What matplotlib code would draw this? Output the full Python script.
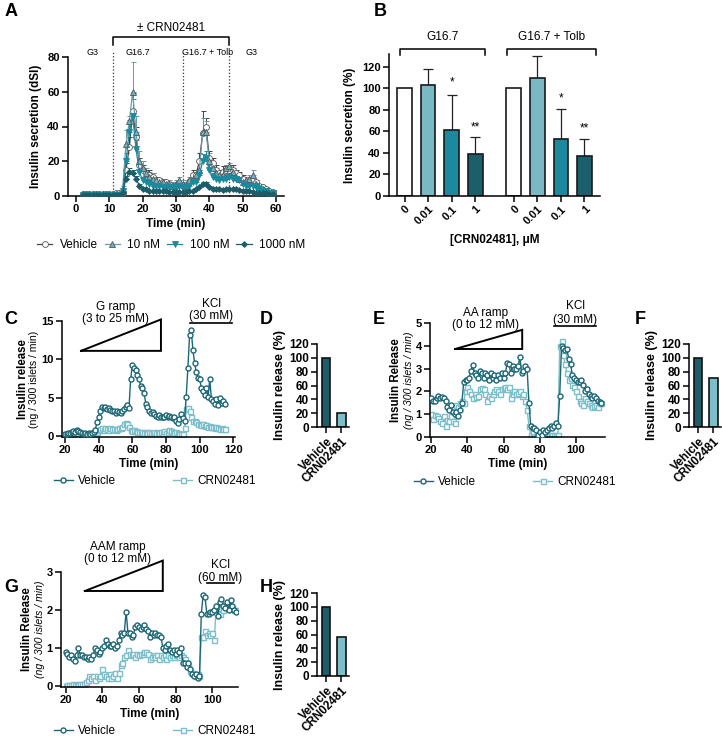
import numpy as np
import matplotlib
matplotlib.use("Agg")
import matplotlib.pyplot as plt

plt.rcParams['font.family'] = ['Liberation Sans', 'DejaVu Sans']
plt.rcParams['axes.linewidth'] = 1.1
plt.rcParams['xtick.major.width'] = 1.1
plt.rcParams['ytick.major.width'] = 1.1
plt.rcParams['xtick.major.size'] = 4
plt.rcParams['ytick.major.size'] = 4

W, H = 722, 736
DARK = '#1d6675'
LIGHT = '#7cbfcb'
MID = '#1b8a9e'
DEEP = '#1c5d69'
GREY = '#555555'
TICK_FS = 8
LAB_FS = 8.5

# ---------------- Panel A data ----------------
time_a = list(range(2, 60))
veh_a = [1, 1, 1, 1, 1, 1, 1, 1, 1, 1, 1.5, 1.5,
         2, 15, 28, 49, 34, 18, 15, 13, 12, 11, 9, 9, 8, 8, 7, 6, 6, 7, 6, 6, 8, 12, 12, 20, 36, 40,
         22, 19, 15, 13, 14, 15, 15, 15, 13, 12, 10, 8, 8, 9, 8, 6, 5, 4, 3, 2.5]
veh_a_err = [0.3] * 12 + [1, 4, 6, 10, 6, 4, 3, 2, 3, 2, 2, 1.5, 1.5, 1, 1, 1, 1, 1, 1, 2, 2, 3, 2, 5, 13, 5,
                          4, 3, 3, 2, 3, 3, 3, 3, 2, 2, 2, 1, 1, 1, 1, 1, 1, 1, 0.5, 0.5]
n10_a = [1] * 12 + [4, 30, 43, 60, 37, 20, 16, 13, 11, 10, 9, 8, 8, 7, 7, 6, 7, 9, 7, 6, 9, 10, 12, 15, 37, 37,
                    20, 16, 13, 12, 12, 16, 17, 14, 11, 10, 8, 9, 10, 12, 7, 5, 4, 3, 2.5, 2]
n10_a_err = [0.3] * 12 + [2, 8, 3, 17, 9, 6, 4, 3, 3, 3, 2, 2, 2, 2, 2, 2, 2, 2, 2, 2, 2, 2, 2, 4, 8, 6,
                          5, 3, 3, 2, 2, 2, 2, 2, 2, 2, 2, 2, 2, 3, 1, 1, 1, 1, 1, 1]
n100_a = [0.8] * 12 + [3, 20, 37, 46, 27, 14, 9, 8, 7, 6, 6, 6, 5, 5, 5, 5, 5, 6, 5, 5, 6, 8, 8, 12, 20, 22,
                       15, 11, 10, 9, 10, 10, 11, 10, 10, 9, 7, 6, 6, 6, 5, 4, 3, 3, 2, 2]
n100_a_err = [0.3] * 12 + [1, 5, 7, 10, 5, 3, 2, 2, 2, 2, 2, 2, 2, 2, 2, 2, 2, 2, 2, 2, 2, 2, 2, 3, 4, 4,
                           3, 2, 2, 2, 2, 2, 2, 2, 2, 2, 2, 2, 2, 2, 1, 1, 1, 1, 1, 1]
n1000_a = [0.6] * 12 + [2, 10, 14, 13, 10, 6, 4, 4, 3, 3, 3, 3, 3, 3, 2.5, 2.5, 2.5, 2.5, 2.5, 2.5, 3, 3, 4, 5, 7, 7,
                        5, 4, 4, 4, 3.5, 4, 4, 4, 4, 3.5, 3, 3, 3, 2.5, 2, 2, 1.5, 1.5, 1, 1]
n1000_a_err = [0.3] * 12 + [0.5, 1.5, 2, 2, 1.5, 1, 0.8, 0.6, 0.5, 0.5, 0.5, 0.5, 0.5, 0.5, 0.5, 0.5, 0.5, 0.5, 0.5,
                            0.5, 0.5, 0.5, 0.6, 0.8, 1, 1, 0.8, 0.6, 0.6, 0.6, 0.5, 0.6, 0.6, 0.6, 0.6, 0.5, 0.5,
                            0.5, 0.5, 0.5, 0.4, 0.4, 0.3, 0.3, 0.3, 0.3]

# ---------------- Panel B data ----------------
b_labels = ['0', '0.01', '0.1', '1']
b_g167 = [100, 103, 61, 39]
b_g167_err = [0, 15, 33, 16]
b_tolb = [100, 110, 53, 37]
b_tolb_err = [0, 20, 28, 16]
b_colors = ['white', '#79b8c4', '#1b8a9e', '#1c5f6c']

# ---------------- Panel C data ----------------
time_c = list(range(20, 116))
veh_c = [0.3, 0.3, 0.4, 0.4, 0.5, 0.6, 0.5, 0.7, 0.6, 0.5, 0.4, 0.3, 0.4, 0.3, 0.4, 0.3, 0.4, 0.5, 0.8,
         1.8, 2.5, 3.2, 3.8, 3.7, 3.8, 3.5, 3.7, 3.4, 3.2, 3.3, 3.0, 3.2, 3.1, 3.0, 3.3, 3.5, 3.8, 4.0, 3.7,
         7.4, 9.3, 8.9, 8.6, 7.9, 7.4, 6.5, 6.2, 5.6, 4.2, 3.8, 3.3, 3.0, 3.1, 2.9, 2.6, 2.5, 2.7, 2.4, 2.5,
         2.4, 2.7, 2.4, 2.6, 2.5, 2.3, 2.4, 2.0, 1.7, 2.2, 2.8, 2.3, 2.0, 5.1, 8.8, 13.2, 13.8, 11.2, 9.5,
         8.3, 7.6, 7.4, 6.3, 5.8, 5.3, 6.2, 5.1, 7.4, 4.8, 4.5, 4.2, 4.8, 4.0, 4.9, 4.3, 4.6, 4.2]
crn_c = [0.2, 0.2, 0.2, 0.3, 0.2, 0.2, 0.1, 0.2, 0.1, 0.2, 0.2, 0.1, 0.2, 0.2, 0.3, 0.2, 0.3, 0.3, 0.3,
         0.5, 0.8, 0.9, 1.0, 0.8, 1.0, 0.9, 0.8, 1.0, 0.9, 0.9, 0.8, 0.9, 1.0, 1.0, 1.2, 1.5, 1.7, 1.5, 1.2,
         0.8, 0.6, 0.7, 0.6, 0.5, 0.5, 0.4, 0.5, 0.4, 0.5, 0.4, 0.5, 0.4, 0.4, 0.5, 0.4, 0.5, 0.4, 0.5, 0.4,
         0.6, 0.4, 0.5, 0.7, 0.6, 0.5, 0.4, 0.5, 0.4, 0.3, 0.2, 0.3, 1.0, 3.5, 3.6, 3.2, 2.5, 2.0, 1.9,
         1.8, 1.5, 1.6, 1.4, 1.5, 1.3, 1.4, 1.2, 1.3, 1.1, 1.2, 1.0, 1.1, 1.0, 0.9, 1.0, 0.9, 0.9]

# ---------------- Panel E data ----------------
time_e = list(range(20, 115))
veh_e = [1.7, 1.6, 1.6, 1.7, 1.8, 1.7, 1.75, 1.7, 1.6, 1.3, 1.2, 1.4, 1.1, 1.0, 1.1, 0.9, 1.2, 1.5,
         2.4, 2.5, 2.5, 2.6, 2.9, 3.15, 2.8, 2.7, 2.6, 2.9, 2.8, 2.6, 2.8, 2.7, 2.5, 2.8, 2.6, 2.7, 2.5,
         2.7, 2.6, 2.8, 2.6, 2.8, 3.25, 3.2, 2.8, 3.1, 3.0, 3.0, 3.1, 3.5, 2.8, 2.9, 3.1, 3.0, 1.5, 0.5,
         0.4, 0.4, 0.3, 0.1, 0.2, 0.1, 0.3, 0.2, 0.3, 0.4, 0.5, 0.4, 0.5, 0.6, 0.5, 1.8, 4.0, 3.9, 3.8,
         3.85, 3.4, 3.2, 2.7, 2.6, 2.5, 2.4, 2.4, 2.5, 2.3, 2.0, 2.1, 1.9, 1.8, 1.7, 1.8, 1.7, 1.6, 1.55, 1.5]
crn_e = [1.0, 0.8, 0.95, 0.9, 0.85, 0.7, 0.6, 0.9, 0.5, 0.75, 0.7, 0.9, 0.7, 0.6, 1.4, 1.3, 1.5, 1.6,
         1.5, 2.0, 2.2, 2.0, 1.9, 1.7, 1.9, 1.75, 1.8, 2.1, 2.15, 2.1, 1.9, 1.6, 1.8, 1.7, 1.9, 2.0, 2.1,
         2.0, 1.9, 2.1, 2.15, 2.2, 2.1, 2.2, 1.7, 1.9, 2.0, 1.9, 1.95, 2.0, 1.8, 1.9, 1.6, 1.2, 0.5, 0.1,
         0.2, 0.05, 0.0, 0.0, 0.1, 0.1, 0.05, 0.1, 0.1, 0.05, 0.1, 0.1, 0.1, 0.05, 0.1, 4.0, 4.2, 3.6, 3.2,
         2.8, 2.5, 2.6, 2.3, 2.2, 2.0, 1.8, 1.6, 1.5, 1.4, 1.7, 1.6, 1.5, 1.4, 1.3, 1.35, 1.4, 1.3, 1.5, 1.5]

# ---------------- Panel G data ----------------
time_g = list(range(20, 114))
veh_g = [0.9, 0.85, 0.75, 0.8, 0.7, 0.65, 0.8, 1.0, 0.8, 0.8, 0.75, 0.75, 0.7, 0.75, 0.7, 0.8, 1.0,
         0.95, 0.85, 0.9, 1.0, 1.05, 1.2, 1.1, 1.05, 1.05, 1.1, 1.0, 1.05, 1.2, 1.4, 1.35, 1.4, 1.95, 1.4,
         1.4, 1.3, 1.35, 1.55, 1.6, 1.55, 1.5, 1.55, 1.6, 1.5, 1.45, 1.3, 1.4, 1.35, 1.4, 1.35, 1.35, 1.3,
         1.0, 0.95, 1.05, 1.1, 0.95, 0.9, 0.95, 0.85, 0.95, 0.9, 1.0, 0.6, 0.6, 0.5, 0.6, 0.45, 0.3, 0.25,
         0.3, 0.2, 0.25, 1.9, 2.4, 2.35, 1.9, 1.9, 1.95, 1.95, 2.0, 2.1, 1.85, 2.2, 2.3, 2.1, 2.05, 2.2, 2.0,
         2.25, 2.1, 2.0, 1.95]
crn_g = [0.0, 0.02, 0.03, 0.03, 0.05, 0.03, 0.04, 0.03, 0.05, 0.04, 0.05, 0.1, 0.15, 0.25, 0.2, 0.25,
         0.15, 0.25, 0.2, 0.25, 0.45, 0.3, 0.25, 0.2, 0.3, 0.2, 0.25, 0.35, 0.2, 0.35, 0.55, 0.6, 0.75,
         0.8, 0.95, 0.85, 0.8, 0.85, 0.75, 0.85, 0.8, 0.85, 0.85, 0.9, 0.9, 0.85, 0.7, 0.75, 0.8, 0.75, 0.8,
         0.7, 0.8, 0.75, 0.8, 0.7, 0.8, 0.75, 0.8, 0.75, 0.8, 0.8, 0.75, 0.8, 0.75, 0.7, 0.6, 0.55, 0.4,
         0.35, 0.3, 0.25, 0.3, 0.25, 1.3, 1.3, 1.45, 1.35, 1.4, 1.35, 1.4, 1.2, 1.95, 2.0, 1.9, 2.05, 2.0,
         2.1, 2.15, 2.05, 2.1, 2.05, 2.0, 2.0]

# ---------------- Summary bars ----------------
sum_labels = ['Vehicle', 'CRN02481']
d_vals = [100, 20]
f_vals = [100, 71]
h_vals = [100, 57]


def rect(l, t, r, b):
    return [l / W, 1 - b / H, (r - l) / W, (b - t) / H]


fig = plt.figure(figsize=(W / 100, H / 100), dpi=100)


def style(ax):
    for s in ['top', 'right']:
        ax.spines[s].set_visible(False)
    ax.tick_params(direction='out', labelsize=TICK_FS, pad=2)
    for lab in ax.get_xticklabels() + ax.get_yticklabels():
        lab.set_fontweight('bold')


def letter(x, y, s):
    fig.text(x / W, 1 - y / H, s, fontsize=13, fontweight='bold', ha='left', va='center')


# ================= Panel A =================
axA = fig.add_axes(rect(68, 57, 284, 196))
series_a = [
    (veh_a, veh_a_err, 'o', 'white', GREY, '#444444', 'Vehicle', 4.2),
    (n10_a, n10_a_err, '^', '#6fb3bf', GREY, '#6f9aa2', '10 nM', 4.2),
    (n100_a, n100_a_err, 'v', MID, MID, MID, '100 nM', 4.2),
    (n1000_a, n1000_a_err, 'D', DEEP, DEEP, DEEP, '1000 nM', 3.0),
]
handlesA = []
for vals, err, mk, fc, ec, lc, lab, ms in series_a:
    axA.errorbar(time_a, vals, yerr=[np.zeros(len(err)), err], fmt='none', ecolor=lc,
                 elinewidth=0.7, capsize=1.8, capthick=0.7, zorder=2)
    ln, = axA.plot(time_a, vals, marker=mk, color=lc, mfc=fc, mec=ec, ms=ms, mew=0.6, lw=0.9,
                   label=lab, zorder=3)
    handlesA.append(ln)
axA.set_xlim(-2.4, 62.4)
axA.set_ylim(0, 80)
axA.set_xticks(range(0, 61, 10))
axA.set_yticks(range(0, 81, 20))
axA.set_xlabel('Time (min)', fontsize=LAB_FS, fontweight='bold', labelpad=3)
axA.set_ylabel('Insulin secretion (dSI)', fontsize=LAB_FS, fontweight='bold', labelpad=4)
style(axA)
for xv in [11, 32, 46]:
    axA.plot([xv, xv], [0, 83], ls=':', color='#333333', lw=0.9, clip_on=False, zorder=1)
axA.plot([11, 11, 46, 46], [87, 91.5, 91.5, 87], color='black', lw=1.1, clip_on=False)
axA.text(28.5, 96.5, '± CRN02481', ha='center', va='center', fontsize=8.5)
for xv, s in [(5, 'G3'), (18.5, 'G16.7'), (39.5, 'G16.7 + Tolb'), (52.5, 'G3')]:
    axA.text(xv, 82.5, s, ha='center', va='center', fontsize=6.5)
fig.legend(handles=handlesA, loc='center', bbox_to_anchor=(171 / W, 1 - 245 / H), ncol=4,
           frameon=False, fontsize=8.5, handlelength=1.3, handletextpad=0.6, columnspacing=0.6)

# ================= Panel B =================
axB = fig.add_axes(rect(389, 54, 600, 196))
pos1 = np.arange(4)
pos2 = np.arange(4) + 4.65
axB.bar(pos1, b_g167, width=0.63, color=b_colors, edgecolor='#1a1a1a', linewidth=1.2, zorder=2)
axB.bar(pos2, b_tolb, width=0.63, color=b_colors, edgecolor='#1a1a1a', linewidth=1.2, zorder=2)
for p, v, e in list(zip(pos1, b_g167, b_g167_err)) + list(zip(pos2, b_tolb, b_tolb_err)):
    if e > 0:
        axB.errorbar([p], [v], yerr=[[0], [e]], fmt='none', ecolor='#222222', elinewidth=0.9,
                     capsize=3.5, capthick=0.9, zorder=1)
axB.set_xlim(-0.66, 8.31)
axB.set_ylim(0, 132)
axB.set_yticks(range(0, 121, 20))
axB.set_xticks(list(pos1) + list(pos2))
axB.set_xticklabels(b_labels + b_labels, rotation=45, ha='right', rotation_mode='anchor')
axB.set_xlabel('[CRN02481], μM', fontsize=LAB_FS, fontweight='bold', labelpad=5)
axB.set_ylabel('Insulin secretion (%)', fontsize=LAB_FS, fontweight='bold', labelpad=4)
style(axB)
for x0, x1, s in [(-0.2, 3.4, 'G16.7'), (4.35, 8.15, 'G16.7 + Tolb')]:
    axB.plot([x0, x0, x1, x1], [131, 137, 137, 131], color='black', lw=1.1, clip_on=False)
    axB.text((x0 + x1) / 2, 148, s, ha='center', va='center', fontsize=8.5)
for xv, yv, s in [(2, 106, '*'), (3, 64, '**'), (6.65, 91, '*'), (7.65, 63, '**')]:
    axB.text(xv, yv, s, ha='center', va='center', fontsize=8.5)


# ================= Time-course panels =================
def trace_panel(r, t, veh, crn, xlim, ylim, yticks, xticks, italic, lab_x, leg_center):
    ax = fig.add_axes(rect(*r))
    h1, = ax.plot(t, veh, marker='o', color=DARK, mfc='white', mec=DARK, ms=3.6, mew=1.0, lw=1.0,
                  label='Vehicle', zorder=3)
    h2, = ax.plot(t, crn, marker='s', color=LIGHT, mfc='white', mec=LIGHT, ms=3.6, mew=1.0, lw=1.0,
                  label='CRN02481', zorder=2)
    ax.set_xlim(*xlim)
    ax.set_ylim(*ylim)
    ax.set_yticks(yticks)
    ax.set_xticks(xticks)
    ax.set_xlabel('Time (min)', fontsize=LAB_FS, fontweight='bold', labelpad=2)
    style(ax)
    ax.legend(handles=[h1, h2], loc='center', bbox_to_anchor=((leg_center[0] - r[0]) / (r[2] - r[0]),
                                                               -(leg_center[1] - r[3]) / (r[3] - r[1])),
              ncol=2, frameon=False, fontsize=8.5, handlelength=1.6, handletextpad=0.5, columnspacing=4.8)
    ax.text((lab_x[0] - r[0]) / (r[2] - r[0]), 0.5, 'Insulin ' + ('Release' if italic else 'release'),
            transform=ax.transAxes, rotation=90, ha='center', va='center', fontsize=8.3, fontweight='bold')
    ax.text((lab_x[1] - r[0]) / (r[2] - r[0]), 0.5, '(ng / 300 islets / min)', transform=ax.transAxes,
            rotation=90, ha='center', va='center', fontsize=7.6, style='italic' if italic else 'normal')
    return ax


def ramp(ax, x0, x1, ylo, yhi):
    ax.plot([x0, x1, x1, x0], [ylo, yhi, ylo, ylo], color='black', lw=1.4, clip_on=False,
            solid_joinstyle='miter')


# C
axC = trace_panel((62, 321, 235, 437), time_c, veh_c, crn_c, (18.2, 121), (-0.15, 15),
                  [0, 5, 10, 15], range(20, 121, 20), False, (23, 34), (155, 481))
ramp(axC, 29.5, 77, 11.1, 15.2)
axC.text(50, 16.1, 'G ramp\n(3 to 25 mM)', ha='center', va='center', fontsize=8.5, linespacing=1.0)
axC.plot([94.5, 119.5], [14.7, 14.7], color='black', lw=1.2, clip_on=False)
axC.text(107, 16.5, 'KCl\n(30 mM)', ha='center', va='center', fontsize=8.5, linespacing=1.0)

# E
axE = trace_panel((430, 323, 605, 437), time_e, veh_e, crn_e, (19.4, 116), (0, 5),
                  range(0, 6), range(20, 101, 20), True, (396, 409), (515, 482))
ramp(axE, 33.3, 70.3, 3.86, 4.7)
axE.text(50, 5.17, 'AA ramp\n(0 to 12 mM)', ha='center', va='center', fontsize=8.5, linespacing=1.0)
axE.plot([88, 111], [4.87, 4.87], color='black', lw=1.2, clip_on=False)
axE.text(99.5, 5.45, 'KCl\n(30 mM)', ha='center', va='center', fontsize=8.5, linespacing=1.2)

# G
axG = trace_panel((61, 572, 238, 687), time_g, veh_g, crn_g, (17.5, 114), (-0.03, 3),
                  range(0, 4), range(20, 101, 20), True, (27, 40), (155, 731))
ramp(axG, 30.5, 73, 2.5, 3.3)
axG.text(48.6, 3.5, 'AAM ramp\n(0 to 12 mM)', ha='center', va='center', fontsize=8.5, linespacing=1.0)
axG.plot([97, 112], [2.7, 2.7], color='black', lw=1.2, clip_on=False)
axG.text(104.5, 3.02, 'KCl\n(60 mM)', ha='center', va='center', fontsize=8.5, linespacing=1.15)


# ================= Summary bar panels =================
def summary(r, vals):
    ax = fig.add_axes(rect(*r))
    ax.bar([0, 1], vals, width=0.55, color=[DEEP, LIGHT], edgecolor='#111111', linewidth=1.2)
    ax.set_xlim(-0.6, 1.5)
    ax.set_ylim(0, 120)
    ax.set_yticks(range(0, 121, 20))
    ax.set_xticks([0, 1])
    ax.set_xticklabels(sum_labels, rotation=45, ha='right', rotation_mode='anchor')
    ax.set_ylabel('Insulin release (%)', fontsize=9, fontweight='bold', labelpad=2)
    style(ax)
    for lab in ax.get_xticklabels() + ax.get_yticklabels():
        lab.set_fontsize(8.5)
    return ax


summary((317, 344, 349, 427), d_vals)
summary((689, 344, 721, 427), f_vals)
summary((317, 593, 349, 676), h_vals)

letter(5, 11, 'A')
letter(374, 11, 'B')
letter(4, 320, 'C')
letter(260, 320, 'D')
letter(373, 320, 'E')
letter(635, 320, 'F')
letter(4, 587, 'G')
letter(260, 587, 'H')

fig.savefig('out.png', dpi=100)
